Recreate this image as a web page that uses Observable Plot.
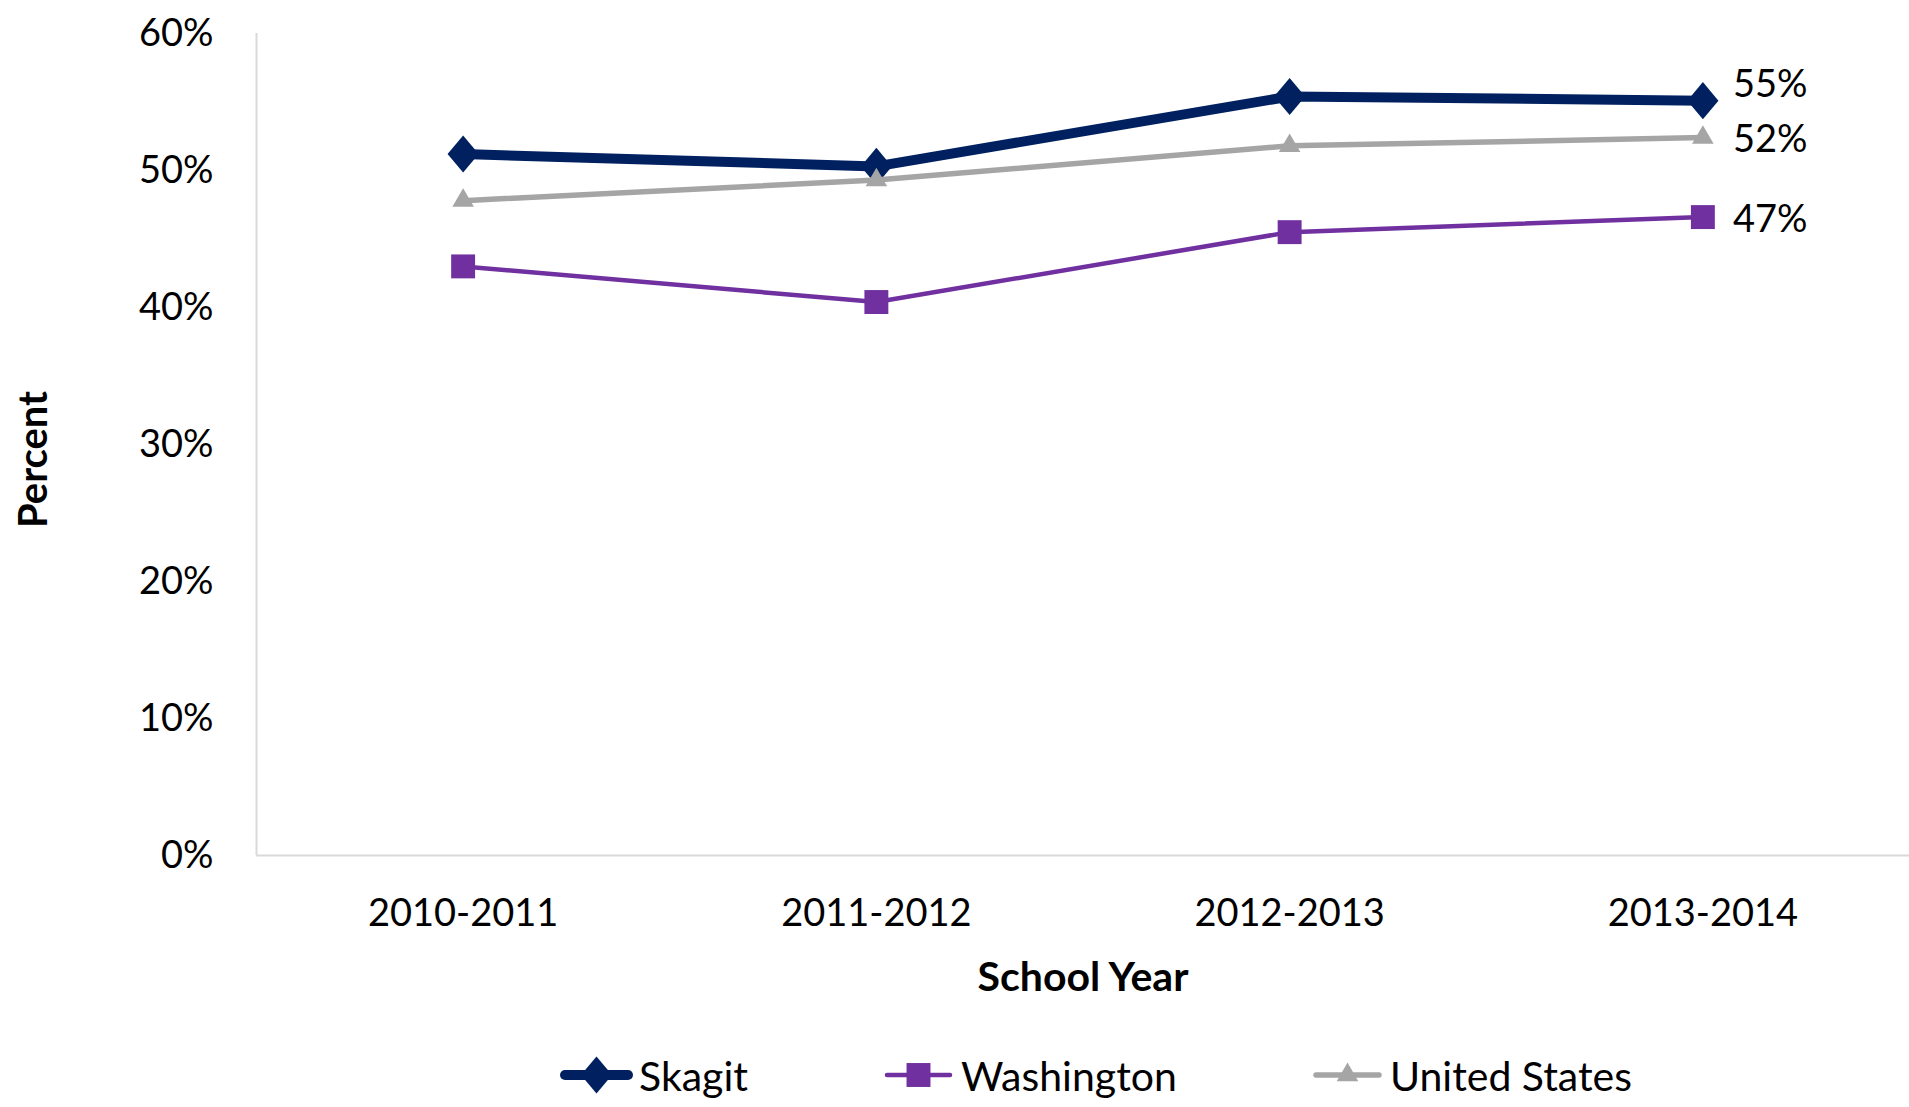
<!DOCTYPE html>
<html><head><meta charset="utf-8">
<script src="https://cdn.jsdelivr.net/npm/d3@7"></script>
<script src="https://cdn.jsdelivr.net/npm/@observablehq/plot@0.6"></script>
<style>
body{margin:0;background:#fff;font-family:Lato,sans-serif;}
#wrap{position:relative;width:1909px;height:1107px;overflow:hidden;background:#fff;}
#chart{position:absolute;left:0;top:0;}
#legend{position:absolute;left:560px;top:1050px;height:50px;display:flex;align-items:center;font-size:41px;color:#000;font-family:Lato,sans-serif;}
.item{display:flex;align-items:center;margin-right:134px;}
.item svg{margin-right:6px;display:block;}
</style></head><body>
<div id="wrap"><div id="chart"></div><div id="legend"></div></div>
<script>
// ---- data ----
const years = ["2010-2011", "2011-2012", "2012-2013", "2013-2014"];
const seriesNames = ["Skagit", "Washington", "United States"];
const skagit = [0.512, 0.503, 0.554, 0.551];
const washington = [0.430, 0.404, 0.455, 0.466];
const unitedStates = [0.478, 0.493, 0.518, 0.524];
const yTicks = [0, 0.1, 0.2, 0.3, 0.4, 0.5, 0.6];
const xLabel = "School Year";
const yLabel = "Percent";

// ---- styles ----
const tallDiamond = {
  draw(ctx, size) {
    const hy = Math.sqrt(size) * 0.5, hx = hy * 0.84;
    ctx.moveTo(0, -hy); ctx.lineTo(hx, 0); ctx.lineTo(0, hy); ctx.lineTo(-hx, 0); ctx.closePath();
  }
};
const styles = {
  "Skagit":        {color: "#002060", width: 10,  symbol: tallDiamond,       r: 20.9, labelDy: -16},
  "Washington":    {color: "#7030A0", width: 4.5, symbol: d3.symbolSquare,   r: 13.5, labelDy: 3},
  "United States": {color: "#A5A5A5", width: 5.5, symbol: d3.symbolTriangle, r: 8,    labelDy: 2}
};
const valuesBy = {"Skagit": skagit, "Washington": washington, "United States": unitedStates};
const fmt = d3.format(".0%");

const marks = [
  Plot.ruleY([0], {stroke: "#d9d9d9", strokeWidth: 2}),
  Plot.ruleX([-0.5], {stroke: "#d9d9d9", strokeWidth: 2}),
  Plot.axisY({ticks: yTicks, tickFormat: fmt, tickSize: 0, tickPadding: 43, label: null, fontSize: 38}),
  Plot.axisX({ticks: years.map((_, i) => i), tickFormat: i => years[i], tickSize: 0, tickPadding: 44, label: null, fontSize: 38})
];
for (const name of seriesNames) {
  const s = styles[name];
  const rows = years.map((year, i) => ({i, year, value: valuesBy[name][i]}));
  marks.push(Plot.line(rows, {x: "i", y: "value", stroke: s.color, strokeWidth: s.width}));
  marks.push(Plot.dot(rows, {x: "i", y: "value", symbol: s.symbol, fill: s.color, stroke: null, r: s.r}));
  marks.push(Plot.text(rows.slice(-1), {x: "i", y: "value", text: d => fmt(d.value), dx: 30, dy: s.labelDy, textAnchor: "start", fontSize: 38, fill: "#000"}));
}
marks.push(Plot.text([xLabel], {frameAnchor: "bottom", text: d => d, dy: 135, fontWeight: "bold", fontSize: 41, fill: "#000"}));
marks.push(Plot.text([yLabel], {frameAnchor: "left", text: d => d, rotate: -90, textAnchor: "middle", dx: -222, dy: 15, fontWeight: "bold", fontSize: 40, fill: "#000"}));

const chart = Plot.plot({
  width: 1909,
  height: 1020,
  marginLeft: 256,
  marginRight: 0,
  marginTop: 33,
  marginBottom: 165,
  style: {fontFamily: "Lato, sans-serif", fontSize: "38px", color: "#000", background: "#fff"},
  x: {type: "linear", domain: [-0.5, 3.5]},
  y: {domain: [0, 0.6]},
  marks
});
document.getElementById("chart").appendChild(chart);

// ---- legend ----
const legend = d3.select("#legend");
for (const name of seriesNames) {
  const s = styles[name];
  const item = legend.append("div").attr("class", "item");
  const svg = item.append("svg").attr("width", 73).attr("height", 44);
  svg.append("line").attr("x1", 5).attr("x2", 68).attr("y1", 22).attr("y2", 22)
    .attr("stroke", s.color).attr("stroke-width", s.width).attr("stroke-linecap", "round");
  svg.append("path").attr("transform", "translate(36.5,22)")
    .attr("d", d3.symbol(s.symbol, Math.PI * s.r * s.r)()).attr("fill", s.color);
  item.append("span").text(name);
}
</script>
</body></html>
